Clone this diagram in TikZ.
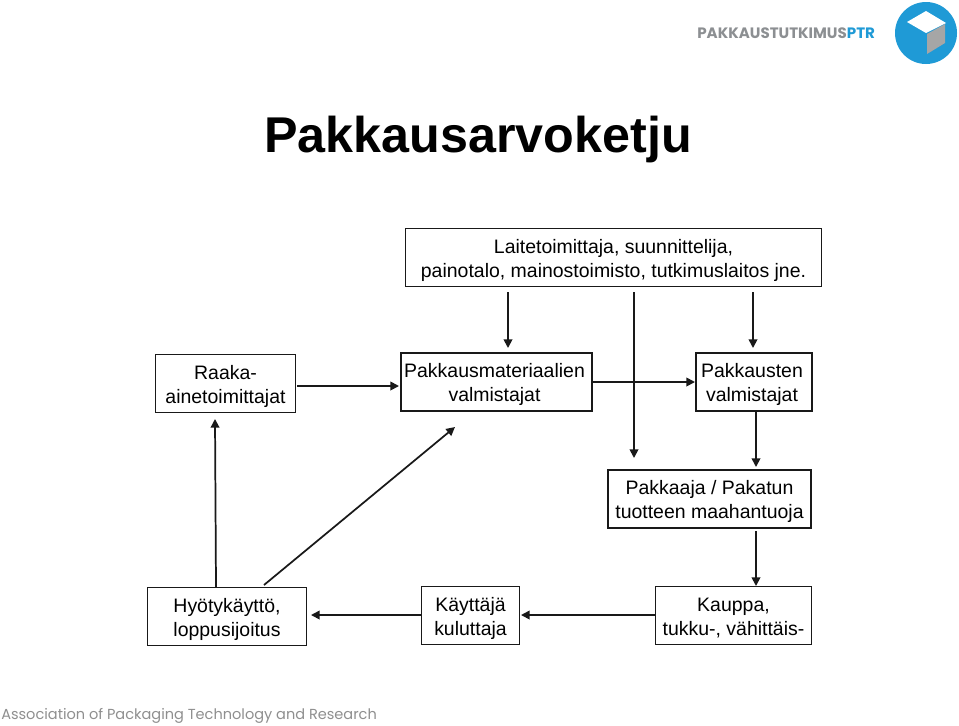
\documentclass[tikz,border=0pt]{standalone}
\usepackage{fontspec}
\setmainfont{Liberation Sans}
\newfontfamily\logofont{Poppins}
\usetikzlibrary{arrows.meta}
\definecolor{logoblue}{HTML}{1F9AD6}
\definecolor{logogray}{HTML}{8C8F92}
\definecolor{cubegray}{HTML}{A6A6A6}
\definecolor{assocgray}{HTML}{8F8F8F}
\newcommand{\flowtext}[3][0pt]{\hspace*{#1}\raisebox{-2.2pt}[\height][\depth]{\begin{tabular}{@{}c@{}}#2\\#3\end{tabular}}}
\tikzset{
  flowbox/.style={draw=black!90,line width=1.4pt,minimum width=#1*0.75pt,minimum height=58*0.75pt,inner sep=0pt,font=\fontsize{14.6pt}{18pt}\selectfont,fill=white},
  link/.style={draw=black!90,line width=1.3pt,-{Triangle[length=6.5pt,width=6.5pt]}},
}
\begin{document}
\begin{tikzpicture}[x=0.75pt,y=-0.75pt]
\useasboundingbox (0,0) rectangle (959,725);
\fill[white] (0,0) rectangle (959,725);
\node[anchor=west,inner sep=0pt,font=\bfseries\fontsize{37.7pt}{40pt}\selectfont] (title) at (264,139) {Pakkausarvoketju};
% logo
\node[anchor=west,font=\logofont\bfseries\fontsize{11.3pt}{12pt}\selectfont,text=logogray,inner sep=0pt] (logotext) at (697,33) {PAKKAUSTUTKIMUS\textcolor{logoblue}{PTR}};
\fill[logoblue] (926,33) circle (31);
\fill[white] (926,11) -- (946,23) -- (926,33) -- (907,22) -- cycle;
\fill[cubegray] (945,24) -- (927,34) -- (927,54) -- (945,43) -- cycle;
\node[anchor=west,inner sep=0pt,font=\logofont\fontsize{10.9pt}{12pt}\selectfont,text=assocgray] (assoc) at (1,716) {Association of Packaging Technology and Research};
% boxes
\node[flowbox=416] (lait) at (613.5,257.5) {\flowtext{Laitetoimittaja, suunnittelija,}{painotalo, mainostoimisto, tutkimuslaitos jne.}};
\node[flowbox=140] (raaka) at (225.5,383.5) {\flowtext{Raaka-}{ainetoimittajat}};
\node[flowbox=191] (mater) at (496.5,382) {\flowtext[-3pt]{Pakkausmateriaalien}{valmistajat}};
\node[flowbox=116] (pakk) at (754,382) {\flowtext[-3pt]{Pakkausten}{valmistajat}};
\node[flowbox=203] (pakkaaja) at (709.5,499) {\flowtext{Pakkaaja / Pakatun}{tuotteen maahantuoja}};
\node[flowbox=159] (hyoty) at (227,616.5) {\flowtext{Hyötykäyttö,}{loppusijoitus}};
\node[flowbox=98] (kayt) at (470.5,615.5) {\flowtext{Käyttäjä}{kuluttaja}};
\node[flowbox=156] (kauppa) at (733.5,615.5) {\flowtext{Kauppa,}{tukku-, vähittäis-}};
% free ends
\coordinate (a1s) at (508,292); \coordinate (a1e) at (508,348);
\coordinate (a2s) at (634,292); \coordinate (a2e) at (634,458);
\coordinate (a3s) at (753,292); \coordinate (a3e) at (753,348);
\coordinate (a4s) at (297,386); \coordinate (a4e) at (399,386);
\coordinate (a5s) at (592,382); \coordinate (a5e) at (695,382);
\coordinate (a6s) at (756,411); \coordinate (a6e) at (756,467);
\coordinate (a7s) at (756,531); \coordinate (a7e) at (756,586);
\coordinate (a8s) at (655,615); \coordinate (a8e) at (521,615);
\coordinate (a9s) at (421,615); \coordinate (a9e) at (311,615);
\coordinate (a10s) at (216,587); \coordinate (a10e) at (215,419);
\coordinate (a11s) at (264,585); \coordinate (a11e) at (455,427);
\foreach \n in {1,...,11} \draw[link] (a\n s) -- (a\n e);
\end{tikzpicture}
\end{document}
